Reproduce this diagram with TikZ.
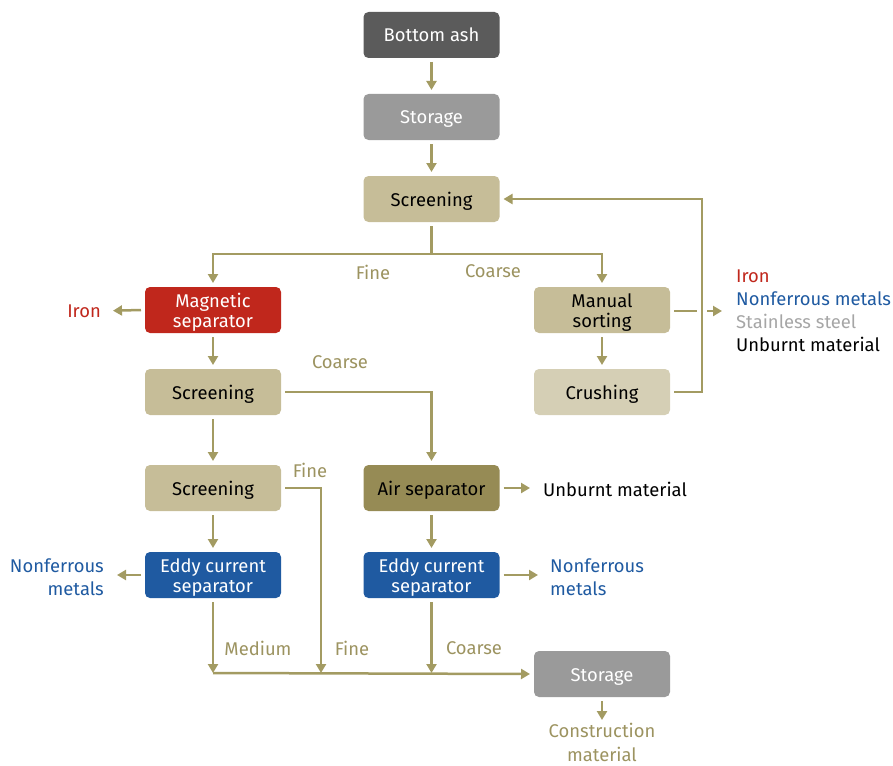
\documentclass[tikz,border=0pt]{standalone}
\usepackage{fontspec}
\setmainfont{Fira Sans}
\usetikzlibrary{arrows.meta,positioning}
\definecolor{cArrow}{HTML}{A39B62}
\definecolor{cTan}{HTML}{C6BD98}
\definecolor{cLight}{HTML}{D5CFB5}
\definecolor{cOlive}{HTML}{968B55}
\definecolor{cBlue}{HTML}{1F5AA1}
\definecolor{cRed}{HTML}{C0271C}
\definecolor{cDark}{HTML}{5B5B5B}
\definecolor{cGray}{HTML}{9A9A9A}
\definecolor{cSteel}{HTML}{A6A6A6}
\definecolor{cLabel}{HTML}{9C9360}
\begin{document}
\begin{tikzpicture}[x=1pt,y=-1pt,
  box/.style={rounded corners=5pt, minimum width=136pt, minimum height=46pt, align=center,
    inner sep=0pt, outer sep=4pt, font=\fontsize{18.4}{20}\selectfont,
    text height=17pt, text depth=3pt},
  box2/.style={box, text height=37pt, text depth=3pt},
  lbl/.style={inner sep=0pt, font=\fontsize{18.4}{23}\selectfont},
  flowlbl/.style={lbl, text=cLabel},
  flow/.style={draw=cArrow, line width=2.5pt, -{Triangle[length=9pt,width=10pt]}},
  plain/.style={draw=cArrow, line width=2.5pt}]
\useasboundingbox (0,0) rectangle (893,765);
% boxes
\node[box, fill=cDark, text=white] (ash) at (431.5,35) {Bottom ash};
\node[box, fill=cGray, text=white] (st1) at (431.5,117) {Storage};
\node[box, fill=cTan] (scr1) at (431.5,199) {Screening};
\node[box2, fill=cRed, text=white] (mag) at (213,310) {Magnetic\\separator};
\node[box2, fill=cTan] (man) at (602,310) {Manual\\sorting};
\node[box, fill=cLight] (cru) at (602,392) {Crushing};
\node[box, fill=cTan] (scr2) at (213,392) {Screening};
\node[box, fill=cTan] (scr3) at (213,488) {Screening};
\node[box, fill=cOlive] (air) at (431.5,488) {Air separator};
\node[box2, fill=cBlue, text=white] (ed1) at (213,575) {Eddy current\\separator};
\node[box2, fill=cBlue, text=white] (ed2) at (431.5,575) {Eddy current\\separator};
\node[box, fill=cGray, text=white] (st2) at (602,674) {Storage};
% output labels
\node[lbl, text=cRed, anchor=east] (iron) at (101,311) {Iron};
\node[lbl, text=cBlue, anchor=east, align=right] (nf1) at (104,577) {Nonferrous\\metals};
\node[lbl, anchor=west] (unb) at (543,489) {Unburnt material};
\node[lbl, text=cBlue, anchor=west, align=left] (nf2) at (550,577) {Nonferrous\\metals};
\node[lbl, text=cLabel, align=center, anchor=north, font=\fontsize{18.4}{23.5}\selectfont] (cm) at (602,723) {Construction\\material};
\node[lbl, anchor=west, align=left] (list) at (736,311) {\textcolor{cRed}{Iron}\\\textcolor{cBlue}{Nonferrous metals}\\\textcolor{cSteel}{Stainless steel}\\Unburnt material};
% flow labels
\node[flowlbl] (lfine1) at (373,272) {Fine};
\node[flowlbl] (lcoarse1) at (493,271) {Coarse};
\node[flowlbl] (lcoarse2) at (340,362) {Coarse};
\node[flowlbl] (lfine2) at (310,470) {Fine};
\node[flowlbl] (lmed) at (258,648) {Medium};
\node[flowlbl] (lfine3) at (352,648) {Fine};
\node[flowlbl] (lcoarse3) at (474,648) {Coarse};
% coordinates
\coordinate (split) at (431.5,254);
\coordinate (j1) at (213,673);
\coordinate (j2) at (321,673);
\coordinate (j3) at (431.5,673);
\coordinate (gapA) at (697,311);
\coordinate (gapB) at (707,311);
% connectors
\draw[flow] (ash) -- (st1);
\draw[flow] (st1) -- (scr1);
\draw[plain] (scr1.south) -- (split);
\draw[flow] (split) -| (mag.north);
\draw[flow] (split) -| (man.north);
\draw[flow, shorten >=12pt] (mag.west) -- (iron.east);
\draw[flow] (mag) -- (scr2);
\draw[flow] (scr2.east) -| (air.north);
\draw[flow] (scr2) -- (scr3);
\draw[flow] (scr3.east) -| (j2);
\draw[flow] (scr3) -- (ed1);
\draw[flow, shorten >=13pt] (ed1.west) -- (nf1.east |- ed1.west);
\draw[flow] (ed1.south) -- (j1);
\draw[flow] (air) -- (ed2);
\draw[flow, shorten >=13pt] (air.east) -- (unb.west |- air.east);
\draw[flow, shorten >=12pt] (ed2.east) -- (nf2.west |- ed2.east);
\draw[flow] (ed2.south) -- (j3);
\draw[flow] (j1) -- (st2.west);
\draw[flow, shorten >=3pt] (st2.south) -- (cm.north);
\draw[flow] (man) -- (cru);
\draw[plain] (man.east |- gapA) -- (gapA);
\draw[flow, shorten >=14pt] (gapB) -- (list.west);
\draw[flow] (cru.east) -- ++(28,0) |- (scr1.east);
\end{tikzpicture}
\end{document}
